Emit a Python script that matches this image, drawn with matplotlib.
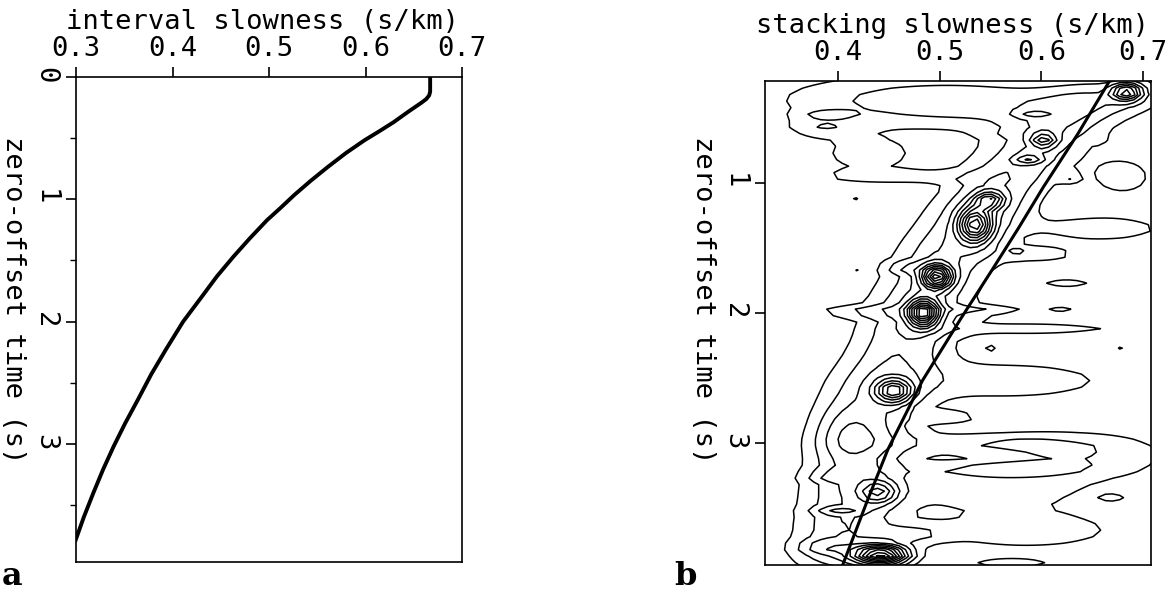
import numpy as np
import matplotlib.pyplot as plt

# (a) interval slowness model
t_int = [0.0, 0.12, 0.15, 0.18, 0.21, 0.28, 0.37, 0.44, 0.517, 0.62, 0.735, 0.85, 0.966, 1.07, 1.17,
         1.32, 1.47, 1.63, 1.80, 2.00, 2.23, 2.43, 2.64, 2.83, 3.02, 3.21, 3.40, 3.60, 3.80]
s_int = [0.667, 0.667, 0.666, 0.663, 0.658, 0.645, 0.629, 0.615, 0.599, 0.580, 0.561, 0.543, 0.526,
         0.512, 0.498, 0.480, 0.463, 0.446, 0.430, 0.411, 0.393, 0.378, 0.364, 0.351, 0.339,
         0.328, 0.318, 0.308, 0.299]

# (b) picked stacking slowness
t_stk = [0.215, 0.62, 1.03, 1.34, 1.65, 2.04, 2.52, 3.05, 3.44, 3.95]
s_stk = [0.667, 0.636, 0.602, 0.578, 0.553, 0.521, 0.483, 0.449, 0.429, 0.404]

# semblance events: slowness, time, strength, width in slowness, width in time
peaks = [
    (0.684, 0.30, 3.0, 0.010, 0.045),
    (0.602, 0.67, 2.0, 0.009, 0.040),
    (0.588, 0.81, 1.4, 0.010, 0.025),
    (0.549, 1.13, 2.5, 0.010, 0.045),
    (0.535, 1.32, 4.0, 0.011, 0.090),
    (0.497, 1.72, 4.5, 0.010, 0.060),
    (0.484, 2.00, 4.5, 0.010, 0.070),
    (0.455, 2.60, 3.0, 0.012, 0.060),
    (0.440, 3.38, 2.0, 0.013, 0.060),
    (0.443, 3.86, 5.0, 0.018, 0.050),
]

band_t = [0.45, 0.60, 0.75, 0.90, 1.05, 1.20, 1.35, 1.50, 1.65, 1.80, 1.95, 2.10,
          2.25, 2.40, 2.55, 2.70, 2.85, 3.00, 3.15, 3.30, 3.45, 3.60, 3.75, 3.90]
band_s = [0.625, 0.610, 0.590, 0.570, 0.555, 0.540, 0.525, 0.512, 0.500, 0.488, 0.478, 0.470,
          0.462, 0.452, 0.445, 0.437, 0.432, 0.425, 0.420, 0.415, 0.411, 0.408, 0.405, 0.403]
band_a = [0.8, 0.9, 0.9, 1.0, 1.0, 1.1, 1.0, 1.1, 1.0, 1.0, 1.1, 0.9,
          1.0, 0.9, 1.0, 0.9, 1.0, 1.1, 0.9, 1.0, 0.9, 1.0, 0.9, 1.0]

streaks = [
    (0.445, 0.36, 0.9, 0.085, 0.14),
    (0.390, 0.465, 0.7, 0.018, 0.012),
    (0.555, 0.38, 0.9, 0.075, 0.15),
    (0.590, 0.47, 0.6, 0.012, 0.012),
    (0.560, 0.60, 0.7, 0.020, 0.012),
    (0.665, 0.32, 1.0, 0.040, 0.10),
    (0.385, 0.57, 0.75, 0.025, 0.06),
    (0.430, 0.78, 0.8, 0.035, 0.10),
    (0.455, 0.95, 0.8, 0.055, 0.035),
    (0.680, 0.95, 0.75, 0.025, 0.12),
    (0.660, 1.35, 0.8, 0.050, 0.08),
    (0.625, 1.77, 0.8, 0.020, 0.03),
    (0.600, 1.55, 0.7, 0.030, 0.05),
    (0.546, 1.98, 0.8, 0.033, 0.03),
    (0.620, 1.98, 0.7, 0.012, 0.02),
    (0.590, 2.12, 0.8, 0.070, 0.04),
    (0.565, 2.52, 0.8, 0.085, 0.12),
    (0.510, 2.80, 0.8, 0.022, 0.03),
    (0.550, 3.00, 0.8, 0.070, 0.06),
    (0.640, 3.10, 0.9, 0.065, 0.13),
    (0.550, 3.20, 0.8, 0.060, 0.04),
    (0.548, 3.35, 0.8, 0.070, 0.11),
    (0.670, 3.43, 0.7, 0.010, 0.015),
    (0.585, 3.67, 0.8, 0.075, 0.12),
    (0.475, 3.70, 0.8, 0.025, 0.05),
    (0.570, 3.93, 0.8, 0.030, 0.03),
    (0.420, 1.99, 0.8, 0.035, 0.03),
    (0.405, 2.92, 0.8, 0.022, 0.18),
    (0.390, 3.25, 0.8, 0.018, 0.02),
    (0.400, 3.52, 0.8, 0.018, 0.02),
    (0.385, 3.80, 0.8, 0.020, 0.04),
    (0.465, 1.65, 0.8, 0.015, 0.03),
    (0.416, 1.13, 0.7, 0.005, 0.02),
    (0.420, 1.69, 0.7, 0.005, 0.02),
    (0.655, 0.65, 0.7, 0.006, 0.02),
    (0.628, 0.96, 0.7, 0.007, 0.025),
    (0.550, 2.26, 0.65, 0.005, 0.02),
    (0.679, 2.26, 0.65, 0.005, 0.02),
    (0.576, 1.53, 0.65, 0.005, 0.02),
]

levels = [0.5, 1.0, 1.5, 2.0, 2.5, 3.0, 3.5, 4.0, 4.5, 5.0, 5.5]

# coarse grid, like the scan of a semblance panel
pp = np.arange(0.32, 0.72, 0.007)
tt = np.arange(0.17, 4.0, 0.05)
P, T = np.meshgrid(pp, tt)
Z = np.zeros_like(P)
events = peaks + [(s, t, a, 0.035, 0.09) for s, t, a in zip(band_s, band_t, band_a)] + streaks
for s, t, a, ws, wt in events:
    Z += a * np.exp(-0.5 * (((P - s) / ws) ** 2 + ((T - t) / wt) ** 2))

W, H = 1170, 592
fig = plt.figure(figsize=(W / 100, H / 100), dpi=100)
mono = 'DejaVu Sans Mono'
fs = 19.5


def setup(ax):
    for sp in ax.spines.values():
        sp.set_linewidth(1.2)
    ax.xaxis.tick_top()
    ax.tick_params(axis='x', which='both', direction='out', length=7, width=1.2,
                   pad=4, labelsize=fs, bottom=False, top=True)
    ax.tick_params(axis='y', which='major', direction='out', length=7, width=1.2,
                   pad=6, labelsize=fs, labelrotation=270, right=False)
    ax.tick_params(axis='y', which='minor', direction='out', length=4.5, width=1.0, right=False)
    for lab in ax.get_xticklabels() + ax.get_yticklabels():
        lab.set_family(mono)


# panel a
ax1 = fig.add_axes([76 / W, 1 - 562 / H, 386 / W, 485 / H])
ax1.plot(s_int, t_int, color='black', lw=2.8, solid_capstyle='butt', solid_joinstyle='round')
ax1.set_xlim(0.3, 0.7)
ax1.set_ylim(3.965, 0)
ax1.set_xticks([0.3, 0.4, 0.5, 0.6, 0.7])
ax1.set_xticklabels(['0.3', '0.4', '0.5', '0.6', '0.7'])
ax1.set_yticks([0, 1, 2, 3])
ax1.set_yticklabels(['0', '1', '2', '3'])
ax1.set_yticks([0.5, 1.5, 2.5, 3.5], minor=True)
setup(ax1)

# panel b
ax2 = fig.add_axes([765 / W, 1 - 565 / H, 386 / W, 484 / H])
ax2.contour(P, T, Z, levels=levels, colors='black', linewidths=1.1)
ax2.plot(s_stk, t_stk, color='black', lw=2.2)
ax2.set_xlim(0.3282, 0.7078)
ax2.set_ylim(3.938, 0.215)
ax2.set_xticks([0.4, 0.5, 0.6, 0.7])
ax2.set_xticklabels(['0.4', '0.5', '0.6', '0.7'])
ax2.set_yticks([1, 2, 3])
ax2.set_yticklabels(['1', '2', '3'])
setup(ax2)

fig.text(263 / W, 1 - 22 / H, 'interval slowness (s/km)', family=mono, fontsize=fs,
         ha='center', va='center')
fig.text(953 / W, 1 - 26 / H, 'stacking slowness (s/km)', family=mono, fontsize=fs,
         ha='center', va='center')
fig.text(13 / W, 1 - 300 / H, 'zero-offset time (s)', family=mono, fontsize=fs,
         rotation=270, ha='center', va='center')
fig.text(703 / W, 1 - 300 / H, 'zero-offset time (s)', family=mono, fontsize=fs,
         rotation=270, ha='center', va='center')

fig.text(2 / W, 1 - 585 / H, 'a', family='DejaVu Serif', fontweight='bold', fontsize=23,
         ha='left', va='baseline')
fig.text(674 / W, 1 - 585 / H, 'b', family='DejaVu Serif', fontweight='bold', fontsize=23,
         ha='left', va='baseline')

fig.savefig('out.png', dpi=100)
